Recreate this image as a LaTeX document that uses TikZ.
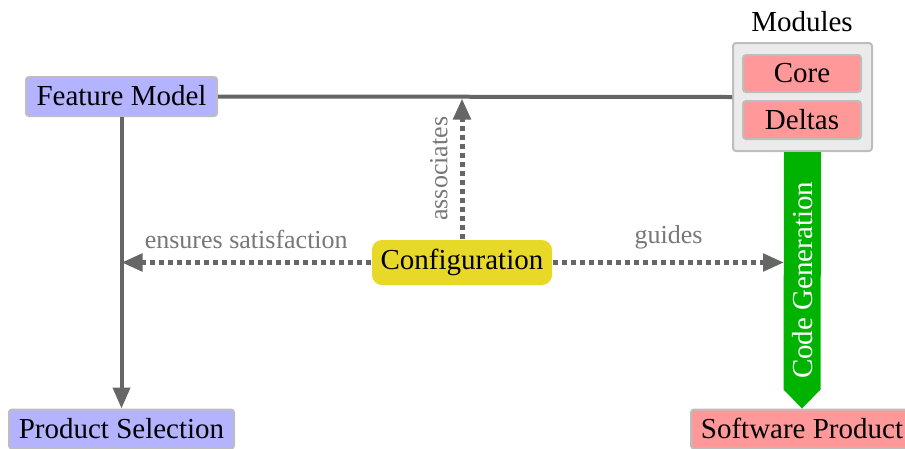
\documentclass[tikz,border=0pt]{standalone}
\usepackage{fontspec}
\setmainfont{Liberation Serif}
\usetikzlibrary{arrows.meta,calc}
\definecolor{fmblue}{HTML}{B3B3FF}
\definecolor{modpink}{HTML}{FF9999}
\definecolor{linegray}{HTML}{666666}
\definecolor{bordergray}{HTML}{BDBDBD}
\definecolor{boxgray}{HTML}{EBEBEB}
\definecolor{confyellow}{HTML}{E8D828}
\definecolor{gengreen}{HTML}{00B300}
\definecolor{labelgray}{HTML}{777777}
\begin{document}
\begin{tikzpicture}[x=1pt,y=-1pt,
  box/.style={draw=bordergray, line width=2pt, rounded corners=3pt, inner sep=0pt,
    minimum height=39pt, font=\fontsize{29}{34}\selectfont, text height=22pt, text depth=4pt},
  conn/.style={draw=linegray, line width=4pt},
  dotconn/.style={draw=linegray, line width=5pt, dash pattern=on 5pt off 4pt,
    -{Triangle[length=21pt,width=17pt,fill=linegray]}},
  lbl/.style={text=labelgray, font=\fontsize{26}{30}\selectfont, inner sep=3pt},
  arrowtip/.style={-{Triangle[length=21pt,width=17pt,fill=linegray]}}
]
\useasboundingbox (0,0) rectangle (905,448);

\node[box, fill=fmblue, minimum width=191pt] (fm) at (121.5,96.5) {Feature Model};
\node[box, fill=fmblue, minimum width=225pt] (ps) at (121.5,429) {Product Selection};
\node[box, fill=boxgray, minimum width=139pt, minimum height=108pt] (mod) at (802.5,97) {};
\node[box, fill=modpink, minimum width=118pt, minimum height=37pt] (core) at (802,73.5) {Core};
\node[box, fill=modpink, minimum width=118pt, minimum height=38pt] (deltas) at (802,120) {Deltas};
\node[font=\fontsize{29}{34}\selectfont, anchor=base, inner sep=0pt] (modlbl) at (802,31) {Modules};
\node[box, draw=none, fill=confyellow, rounded corners=10pt, minimum width=180pt, minimum height=45pt, text height=20pt, text depth=7pt] (conf) at (462,262.5) {Configuration};
\node[box, fill=modpink, minimum width=222pt] (sp) at (802,429) {Software Product};

% code generation arrow
\coordinate (cgl) at ($(mod.south)+(-18.5,0)$);
\coordinate (cgr) at ($(mod.south)+(18.5,0)$);
\fill[gengreen] (cgl) -- (cgr) -- ($(sp.north)+(18.5,-19)$) -- (sp.north) -- ($(sp.north)+(-18.5,-19)$) -- cycle;
\node[rotate=90, text=white, font=\fontsize{29}{34}\selectfont, inner sep=0pt] (cg) at ($(mod.south)!0.5!(sp.north)$) {Code Generation};

% connectors
\draw[conn] (fm.east) -- (mod.west);
\draw[conn, arrowtip] (fm.south) -- (ps.north);
\draw[dotconn] (conf.west) -- node[lbl, above=8pt] {ensures satisfaction} (fm.south |- conf.west);
\draw[dotconn] (conf.east) -- node[lbl, above=8pt] {guides} (cgl |- conf.east);
\draw[dotconn] (conf.north) -- node[lbl, rotate=90, above=9pt] {associates} ($(conf.north |- fm.east)+(0,2)$);
\end{tikzpicture}
\end{document}
